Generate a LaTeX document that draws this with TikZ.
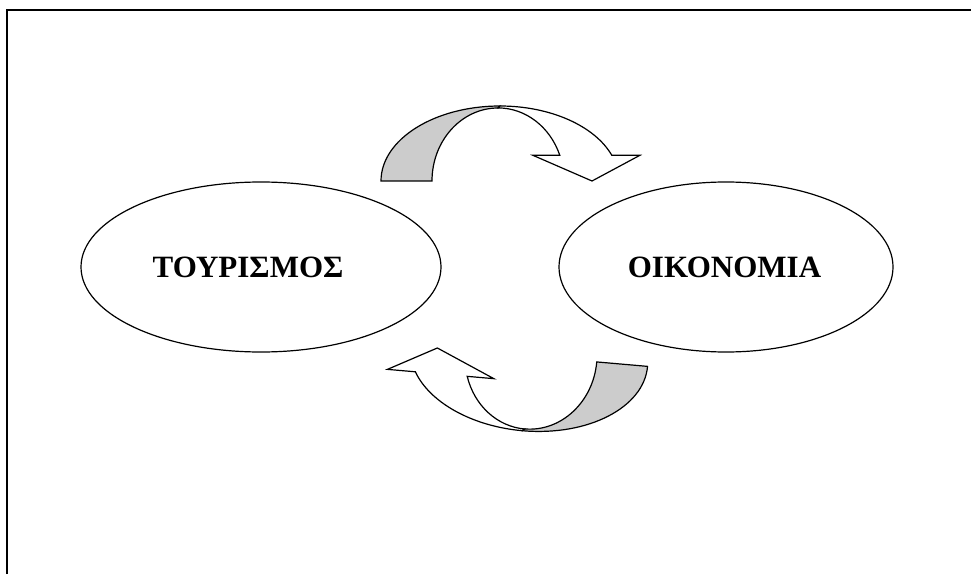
\documentclass[tikz,border=0pt]{standalone}
\usepackage{fontspec}
\setmainfont{Liberation Serif}
\usetikzlibrary{shapes.geometric}
\tikzset{
  bubble/.style={draw, ellipse, line width=1.2pt, inner sep=0pt,
    minimum height=170pt, font=\bfseries\fontsize{31}{36}\selectfont},
  ribbonback/.style={draw, line width=1.2pt, fill=black!20, line join=miter},
  ribbonfront/.style={draw, line width=1.2pt, fill=white, line join=miter},
  frameline/.style={line width=2pt}
}
\newcommand{\ribbonarrowshape}{%
  \path[ribbonback] (-119,0) arc[start angle=180, end angle=90, x radius=119pt, y radius=75pt]
     -- (-2,73) arc[start angle=90, end angle=180, x radius=66pt, y radius=73pt] -- cycle;
  \path[ribbonfront] (0,75) arc[start angle=90, end angle=20, x radius=119pt, y radius=75pt]
     -- ++(28,0) -- (92,0) -- (33,25.65) -- (59.8,25.65)
     arc[start angle=20.5, end angle=90, x radius=66pt, y radius=73pt] -- cycle;
}
\begin{document}
\begin{tikzpicture}[x=1pt,y=1pt]
\useasboundingbox (0,0) rectangle (971,574);
\coordinate (fa) at (7,0);
\coordinate (fb) at (7,563.5);
\coordinate (fc) at (971,563.5);
\draw[frameline] (fa) -- (fb) -- (fc);
\node[bubble, minimum width=360pt] (tour) at (261,307) {ΤΟΥΡΙΣΜΟΣ\hspace*{26pt}};
\node[bubble, minimum width=334pt] (oik) at (726,307) {ΟΙΚΟΝΟΜΙΑ\hspace*{3pt}};
\begin{scope}[shift={(500,393)}]
  \ribbonarrowshape
\end{scope}
\begin{scope}[shift={(529,218)}, rotate=175]
  \ribbonarrowshape
\end{scope}
\end{tikzpicture}
\end{document}
